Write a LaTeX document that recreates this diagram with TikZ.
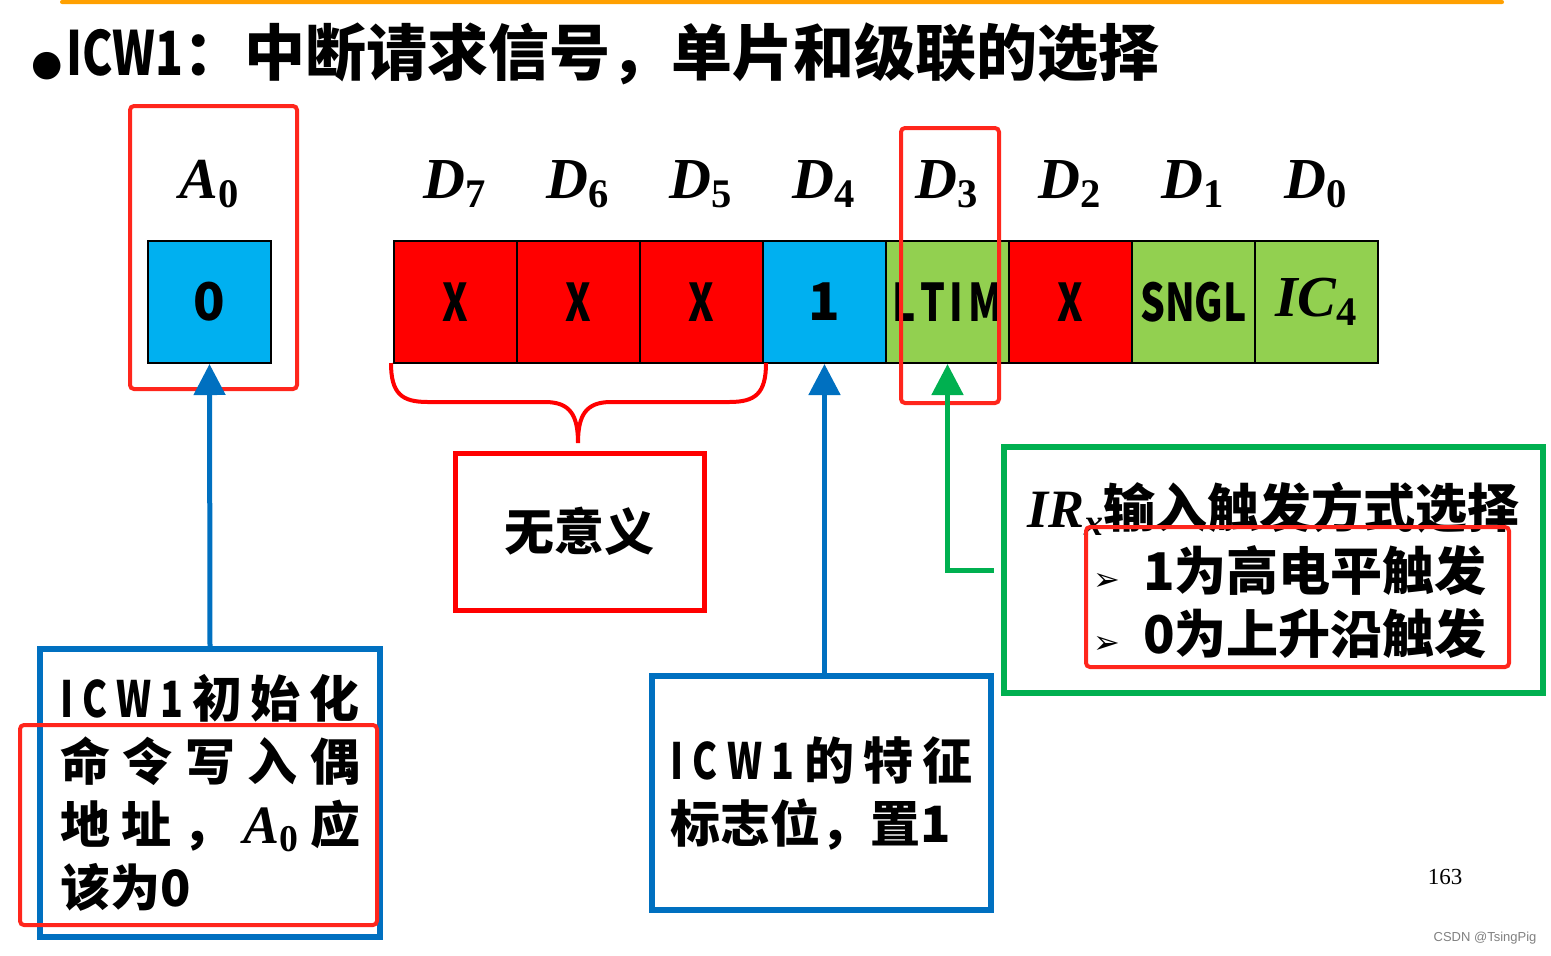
\RequirePackage{fix-cm}
\documentclass[tikz,border=0pt]{standalone}
\usepackage{amsmath}
\usepackage{fontspec}
\usepackage{graphicx}
\newfontfamily\cjk{Noto Sans CJK SC}
\newfontfamily\symfont{DejaVu Sans}
\newfontfamily\symserif{Liberation Serif}
\newfontfamily\pageserif{Liberation Serif}
\newfontfamily\marksans{Liberation Sans}
\usepackage{tikz}
\usetikzlibrary{positioning,arrows.meta}

\definecolor{bitred}{RGB}{255,0,0}
\definecolor{bitblue}{RGB}{0,176,240}
\definecolor{bitgreen}{RGB}{146,208,80}
\definecolor{linkblue}{RGB}{0,112,192}
\definecolor{linkgreen}{RGB}{0,176,80}
\definecolor{framered}{RGB}{255,38,28}
\definecolor{topline}{RGB}{255,160,0}

\newcommand{\narrow}[1]{\scalebox{0.75}[1]{#1}}
\newcommand{\bitsym}[2]{$\text{\symserif\bfseries\itshape #1}_{\text{\symserif\bfseries #2}}$}

\begin{document}
\begin{tikzpicture}[x = 0.5pt, y = -0.5pt, node distance = 59pt and 61.5pt, on grid,
                    cell/.style     = {rectangle,
                                       draw = black,
                                       line width = 1pt,
                                       minimum width = 61.5pt,
                                       minimum height = 61pt,
                                       inner sep = 0pt,
                                       text = black,
                                       font = \cjk\bfseries\fontsize{26}{26}\selectfont},
                    bitlabel/.style = {font = \fontsize{29}{29}\selectfont},
                    redframe/.style = {draw = framered,
                                       line width = 2pt,
                                       rounded corners = 2pt},
                    note/.style     = {rectangle,
                                       inner sep = 0pt,
                                       align = left,
                                       text = black,
                                       font = \cjk\bfseries\fontsize{25}{31.5}\selectfont},
                    bluebox/.style  = {note, draw = linkblue, line width = 3pt},
                    greenbox/.style = {note, draw = linkgreen, line width = 3pt},
                    nullbox/.style  = {note, draw = bitred, line width = 2.5pt},
                    bluearrow/.style  = {draw = linkblue, line width = 2.5pt,
                                         -{Triangle[width = 15.5pt, length = 15.5pt]}},
                    greenarrow/.style = {draw = linkgreen, line width = 2.5pt,
                                         -{Triangle[width = 15.5pt, length = 15.5pt]}}]

\useasboundingbox (0,0) rectangle (1551,955);

% top bar and title
\fill[topline, rounded corners = 1pt] (60,0) rectangle (1504,4);
\node[anchor = base west, inner sep = 0pt, font = \cjk\bfseries\fontsize{30.5}{30.5}\selectfont] (title) at (31,75)
  {{\symfont\fontsize{18}{18}\selectfont ●}\hspace{2pt}\scalebox{0.75}[1]{ICW1}：中断请求信号，单片和级联的选择};

% A0 bit
\node[cell, fill = bitblue] (abox) at (209.5,302) {0};
\node[bitlabel, above = of abox] (la) {\bitsym{A}{0}};

% D7 ... D0
\node[cell, fill = bitred] (d7) at (455.5,302) {\narrow{X}};
\node[cell, fill = bitred, right = of d7] (d6) {\narrow{X}};
\node[cell, fill = bitred, right = of d6] (d5) {\narrow{X}};
\node[cell, fill = bitblue, right = of d5] (d4) {1};
\node[cell, fill = bitgreen, right = of d4] (d3) {\narrow{L\hspace{3pt}T\hspace{3pt}I\hspace{3pt}M}};
\node[cell, fill = bitred, right = of d3] (d2) {\narrow{X}};
\node[cell, fill = bitgreen, right = of d2] (d1) {\narrow{SNGL}};
\node[cell, fill = bitgreen, right = of d1, font = \fontsize{29}{29}\selectfont] (d0) {\bitsym{IC}{4}};

\node[bitlabel, above = of d7] (l7) {\bitsym{D}{7}};
\node[bitlabel, above = of d6] (l6) {\bitsym{D}{6}};
\node[bitlabel, above = of d5] (l5) {\bitsym{D}{5}};
\node[bitlabel, above = of d4] (l4) {\bitsym{D}{4}};
\node[bitlabel, above = of d3] (l3) {\bitsym{D}{3}};
\node[bitlabel, above = of d2] (l2) {\bitsym{D}{2}};
\node[bitlabel, above = of d1] (l1) {\bitsym{D}{1}};
\node[bitlabel, above = of d0] (l0) {\bitsym{D}{0}};

% brace under the don't-care bits
\draw[draw = bitred, line width = 2pt]
  (391,363) .. controls (391,394) and (402,402) .. (428,402) -- (545,402)
  .. controls (570,402) and (578,415) .. (578,443)
  .. controls (578,415) and (586,402) .. (611,402) -- (729,402)
  .. controls (755,402) and (766,394) .. (766,363);

% notes
\node[nullbox, minimum width = 124.5pt, minimum height = 78.5pt] (null) at (579.5,531.5) {无意义};

\node[bluebox, minimum width = 170pt, minimum height = 144pt] (initbox) at (210,793)
  {\makebox[150pt]{\narrow{I}\hfill\narrow{C}\hfill\narrow{W}\hfill\narrow{1}\hfill 初\hfill 始\hfill 化}\\
   \makebox[150pt]{命\hfill 令\hfill 写\hfill 入\hfill 偶}\\
   \makebox[150pt]{地\hfill 址\hfill ，\hfill {\fontsize{27}{27}\selectfont\bitsym{A}{0}}\hfill 应}\\
   该为0};

\node[bluebox, minimum width = 169.5pt, minimum height = 117pt] (featbox) at (821.5,793)
  {\makebox[151.5pt]{\narrow{I}\hfill\narrow{C}\hfill\narrow{W}\hfill\narrow{1}\hfill 的\hfill 特\hfill 征}\\
   标志位，置1};

\node[greenbox, minimum width = 269.5pt, minimum height = 123pt,
      font = \cjk\bfseries\fontsize{26}{31.5}\selectfont] (trigbox) at (1273.5,570)
  {{\fontsize{27}{27}\selectfont\bitsym{IR}{\itshape x}}输入触发方式选择\\
   \hspace*{33pt}\makebox[25pt][l]{\symfont\fontsize{16}{16}\selectfont ➢}1为高电平触发\\
   \hspace*{33pt}\makebox[25pt][l]{\symfont\fontsize{16}{16}\selectfont ➢}0为上升沿触发};

% red highlight frames
\draw[redframe] (130,106) rectangle (297,389);
\draw[redframe] (901,128) rectangle (999,403);
\draw[redframe] (20,725) rectangle (377,925);
\draw[redframe] (1086,527) rectangle (1509,667);

% arrows
\draw[bluearrow] (initbox.north) -- (abox.south);
\draw[bluearrow] (d4.south |- featbox.north) -- (d4.south);
\draw[greenarrow] ([xshift = -3.5pt]trigbox.west) -| (d3.south);

% page number and mark
\node[font = \pageserif\fontsize{11.5}{11.5}\selectfont] (page) at (1445,877) {163};
\node[font = \marksans\fontsize{6.5}{6.5}\selectfont, text = gray] (mark) at (1485,938) {CSDN @TsingPig};

\end{tikzpicture}
\end{document}
